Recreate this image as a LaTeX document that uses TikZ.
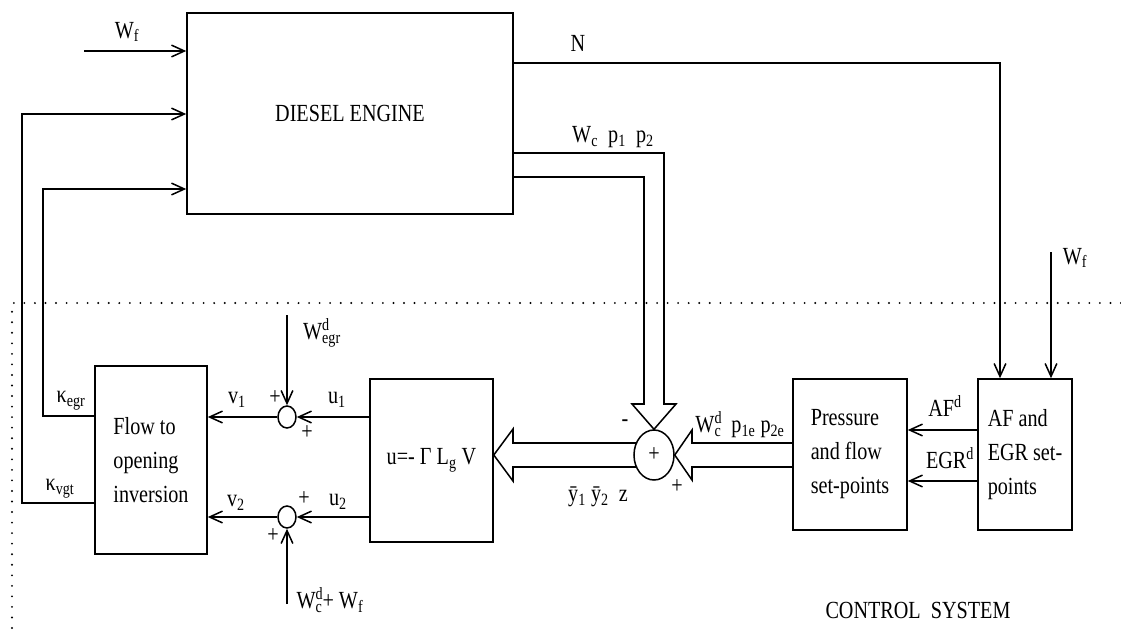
\documentclass[tikz,border=0pt]{standalone}
\usepackage{fontspec}
\setmainfont{Liberation Serif}[FakeStretch=0.82]
\usetikzlibrary{arrows.meta,shapes.geometric}
\newcommand\supsub[2]{\rlap{\textsuperscript{#1}}\textsubscript{#2}}

\begin{document}
\begin{tikzpicture}[x=0.03cm, y=-0.03cm,
font=\fontsize{21}{24}\selectfont,
blk/.style={draw, line width=1.3pt, align=left, inner sep=0pt, font=\fontsize{21}{29}\selectfont},
sumsm/.style={draw, ellipse, line width=1.3pt, minimum width=0.54cm, minimum height=0.66cm, inner sep=0pt},
sumbig/.style={draw, ellipse, line width=1.3pt, minimum width=1.2cm, minimum height=1.5cm, inner sep=0pt},
sig/.style={-{Straight Barb[length=11pt,width=10pt]}, line width=1.3pt},
fat/.style={line width=1.3pt, line join=miter},
bound/.style={line width=1.8pt, dash pattern=on 0pt off 9pt, line cap=round},
lbl/.style={inner sep=0pt}
]
\useasboundingbox (0,0) rectangle (1121,638);

% blocks
\node[blk, align=center, minimum width=9.78cm, minimum height=6.03cm] (eng) at (350,113.5) {DIESEL ENGINE};
\node[blk, minimum width=3.36cm, minimum height=5.64cm] (flow) at (151,460) {Flow to\\opening\\inversion};
\node[blk, align=center, minimum width=3.69cm, minimum height=4.89cm] (ctrl) at (431.5,460.5) {u=- Γ L\textsubscript{g} V};
\node[blk, minimum width=3.42cm, minimum height=4.53cm] (pres) at (850,454.5) {Pressure\\and flow\\set-points};
\node[blk, minimum width=2.82cm, minimum height=4.53cm] (af) at (1025,454.5) {AF and\\EGR set-\\points};

% summing junctions
\node[sumsm] (s1) at (287,417) {};
\node[sumsm] (s2) at (287,517) {};
\node[sumbig] (s0) at (654,455) {+};

% bends and free ends
\coordinate (wfin) at (84,51);
\coordinate (vgtbend) at (22,114);
\coordinate (egrbend) at (43,189);
\coordinate (nbend) at (1000,63);
\coordinate (outA) at (664,153);
\coordinate (outB) at (644,177);
\coordinate (wfr) at (1051,252);
\coordinate (wegr) at (287,315);
\coordinate (wcf) at (287,604);
\coordinate (afd) at (940,430);
\coordinate (egrd) at (940,481);
\coordinate (prA) at (692,443);
\coordinate (prB) at (692,467);

% engine side
\draw[sig] (wfin) -- (eng.west |- wfin);
\draw[sig] ([yshift=-1.29cm]flow.west) -| (vgtbend) -- (eng.west |- vgtbend);
\draw[sig] ([yshift=1.32cm]flow.west) -| (egrbend) -- (eng.west |- egrbend);
\draw[sig] (eng.east |- nbend) -- (nbend) -- (nbend |- af.north);
\draw[sig] (wfr) -- (wfr |- af.north);

% hollow arrows
\draw[fat] (eng.east |- outA) -- (outA) -- (664,404) -- (676,404) -- (s0.north)
  -- (632,404) -- (644,404) -- (outB) -- (eng.east |- outB);
\draw[fat] (pres.west |- prA) -- (prA) -- (692,430) -- (s0.east) -- (692,480)
  -- (prB) -- (pres.west |- prB);
\draw[fat] (636,443) -- (513,443) -- (513,429) -- (ctrl.east |- s0) -- (513,481)
  -- (513,467) -- (636,467);

% control loop
\draw[sig] (ctrl.west |- s1) -- (s1);
\draw[sig] (s1) -- (flow.east |- s1);
\draw[sig] (ctrl.west |- s2) -- (s2);
\draw[sig] (s2) -- (flow.east |- s2);
\draw[sig] (wegr) -- (s1);
\draw[sig] (wcf) -- (s2);
\draw[sig] (af.west |- afd) -- (pres.east |- afd);
\draw[sig] (af.west |- egrd) -- (pres.east |- egrd);

% control system border
\draw[bound] (1121,303) -- (12,303) -- (12,638);

% labels
\node[lbl] (lwf) at (127,32) {W\textsubscript{f}};
\node[lbl] (ln) at (578,43) {N};
\node[lbl] (lout) at (613,137) {W\textsubscript{c}\ \ p\textsubscript{1}\ \ p\textsubscript{2}};
\node[lbl] (lwfr) at (1075,258) {W\textsubscript{f}};
\node[lbl] (lkegr) at (71,401) {κ\textsubscript{egr}};
\node[lbl] (lkvgt) at (60,489) {κ\textsubscript{vgt}};
\node[lbl] (lv1) at (237,400) {v\textsubscript{1}};
\node[lbl] (lu1) at (337,400) {u\textsubscript{1}};
\node[lbl] (lv2) at (236,503) {v\textsubscript{2}};
\node[lbl] (lu2) at (338,502) {u\textsubscript{2}};
\node[lbl] (p1a) at (275,398) {+};
\node[lbl] (p1b) at (307,433) {+};
\node[lbl] (p2a) at (304,499) {+};
\node[lbl] (p2b) at (273,536) {+};
\node[lbl] (lwegr) at (322,333) {W\supsub{d}{egr}};
\node[lbl] (lwcf) at (330,600) {W\supsub{d}{c}+ W\textsubscript{f}};
\node[lbl] (m0) at (625,423) {-};
\node[lbl] (p0) at (677,487) {+};
\node[lbl] (ly) at (598,497) {\=y\textsubscript{1}\ \=y\textsubscript{2}\ \ z};
\node[lbl] (lset) at (740,425) {W\supsub{d}{c}\ \ p\textsubscript{1e}\ p\textsubscript{2e}};
\node[lbl] (lafd) at (945,406) {AF\textsuperscript{d}};
\node[lbl] (legrd) at (950,458) {EGR\textsuperscript{d}};
\node[lbl] (lcs) at (918,610) {CONTROL\ \ SYSTEM};
\end{tikzpicture}
\end{document}
